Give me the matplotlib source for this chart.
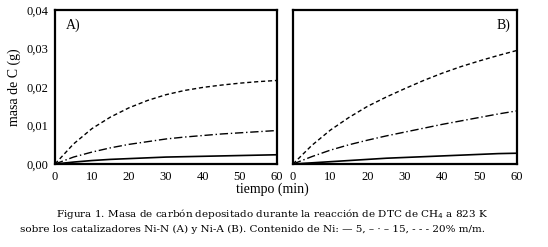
import numpy as np
import matplotlib.pyplot as plt

plt.rcParams['font.family'] = ['Liberation Serif', 'DejaVu Serif']

t = [0, 5, 10, 15, 20, 25, 30, 35, 40, 45, 50, 55, 60]

# Ni-N (A)
a_5 = [0, 0.0005, 0.0009, 0.0012, 0.0014, 0.0016, 0.0018, 0.0019, 0.0020, 0.0021, 0.0022, 0.0023, 0.0024]
a_15 = [0, 0.0018, 0.0031, 0.0042, 0.0051, 0.0058, 0.0065, 0.0070, 0.0074, 0.0078, 0.0081, 0.0084, 0.0087]
a_20 = [0, 0.0052, 0.0092, 0.0122, 0.0146, 0.0165, 0.0180, 0.0191, 0.0199, 0.0205, 0.0210, 0.0214, 0.0217]

# Ni-A (B)
b_5 = [0, 0.0003, 0.0006, 0.0009, 0.0012, 0.0015, 0.0017, 0.0019, 0.0021, 0.0023, 0.0025, 0.0027, 0.0028]
b_15 = [0, 0.0019, 0.0036, 0.0050, 0.0062, 0.0073, 0.0083, 0.0093, 0.0103, 0.0112, 0.0121, 0.0130, 0.0138]
b_20 = [0, 0.0048, 0.0088, 0.0121, 0.0150, 0.0174, 0.0196, 0.0217, 0.0236, 0.0253, 0.0268, 0.0282, 0.0295]

yticks = [0, 0.01, 0.02, 0.03, 0.04]
ylabels = ['0,00', '0,01', '0,02', '0,03', '0,04']
xticks = [0, 10, 20, 30, 40, 50, 60]

fig = plt.figure(figsize=(5.48, 2.47), dpi=100)
ax1 = fig.add_axes([55 / 548, 1 - 164 / 247, 222 / 548, 154 / 247])
ax2 = fig.add_axes([293 / 548, 1 - 164 / 247, 224 / 548, 154 / 247])

for ax, s5, s15, s20, tag, tx in [(ax1, a_5, a_15, a_20, 'A)', 0.05),
                                  (ax2, b_5, b_15, b_20, 'B)', 0.91)]:
    ax.plot(t, s5, color='black', lw=1.2, ls='-')
    ax.plot(t, s15, color='black', lw=1.0, ls=(0, (6, 2, 1, 2)))
    ax.plot(t, s20, color='black', lw=1.0, ls=(0, (3, 2)))
    ax.set_xlim(0, 60)
    ax.set_ylim(0, 0.04)
    ax.set_xticks(xticks)
    ax.tick_params(length=0, labelsize=9, pad=5)
    for sp in ax.spines.values():
        sp.set_linewidth(1.6)
    ax.text(tx, 0.88, tag, transform=ax.transAxes, fontsize=10)

ax1.set_yticks(yticks)
ax1.set_yticklabels(ylabels)
ax1.set_ylabel('masa de C (g)', fontsize=10)
ax2.set_yticks([])

fig.text(272 / 548, 1 - 189 / 247, 'tiempo (min)', ha='center', va='center', fontsize=10)
cap = dict(ha='center', va='center', fontsize=7.5, family=['DejaVu Serif'])
fig.text(272 / 548, 1 - 214 / 247,
         'Figura 1. Masa de carbón depositado durante la reacción de DTC de CH$_4$ a 823 K',
         **cap)
fig.text(252 / 548, 1 - 229 / 247,
         'sobre los catalizadores Ni-N (A) y Ni-A (B). Contenido de Ni: — 5, – · – 15, - - - 20% m/m.',
         **cap)

fig.savefig('out.png', dpi=100)
